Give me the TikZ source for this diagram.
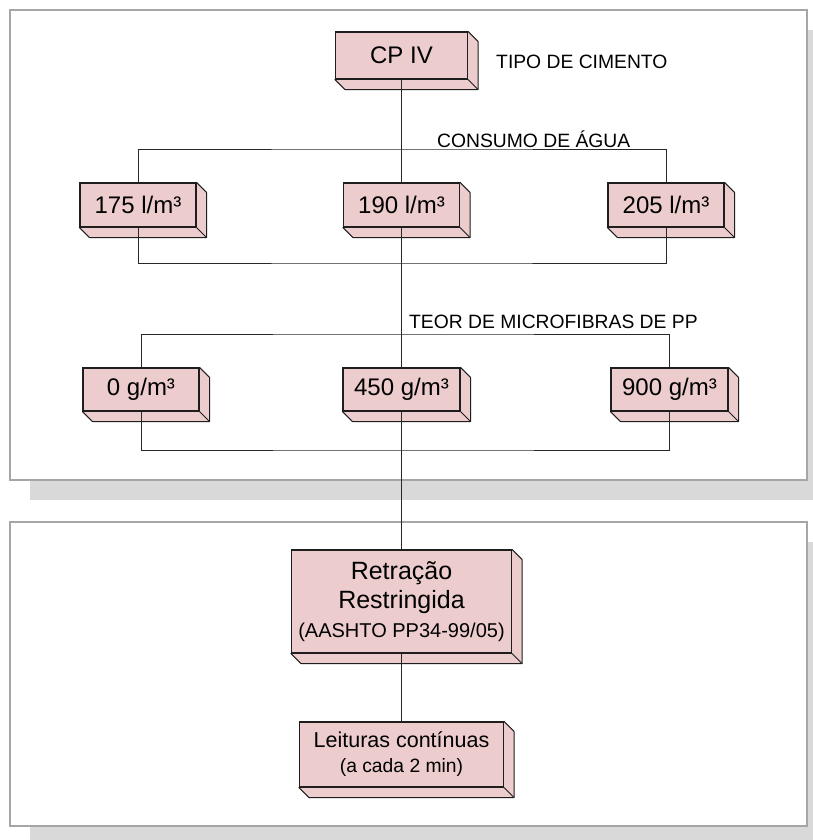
\documentclass[tikz,border=0pt]{standalone}
\usepackage{fontspec}
\setmainfont{Liberation Sans}
\usetikzlibrary{calc}
\pgfdeclarelayer{bg}
\pgfdeclarelayer{depth}
\pgfdeclarelayer{lines}
\pgfsetlayers{bg,depth,lines,main}
\definecolor{boxpink}{RGB}{236,204,204}
\definecolor{panelgray}{RGB}{166,166,166}
\definecolor{shadowgray}{RGB}{217,217,217}
\definecolor{edgecol}{RGB}{30,30,30}
\definecolor{linecol}{RGB}{40,40,40}
\tikzset{
  facebox/.style={draw=edgecol, fill=boxpink, line width=1.1pt, inner sep=2pt, align=center,
    font=\fontsize{24}{28}\selectfont},
  depthbox/.style={draw=edgecol, fill=boxpink, line width=1pt, line join=round},
  conn/.style={draw=linecol, line width=0.9pt},
  grouplabel/.style={anchor=west, inner sep=0pt, font=\fontsize{19.3}{22}\selectfont},
  panel/.style={draw=panelgray, fill=white, line width=2pt},
  panelshadow/.style={fill=shadowgray, draw=none}
}
\newcommand\mydepth[1]{%
  \begin{pgfonlayer}{depth}
    \path[depthbox] (#1.north east) -- ++(10,10) -- ([shift={(10,10)}]#1.south east)
      -- ([shift={(10,10)}]#1.south west) -- (#1.south west) -- cycle;
    \draw[depthbox] (#1.south east) -- ++(10,10);
  \end{pgfonlayer}}
\begin{document}
\begin{tikzpicture}[x=1pt,y=-1pt]
\useasboundingbox (0,0) rectangle (813,840);
\begin{pgfonlayer}{bg}
  \fill[white] (0,0) rectangle (813,840);
  \path[panelshadow] (30,30) rectangle (813,500);
  \path[panel] (10,10) rectangle (807,480);
  \path[panelshadow] (30,542) rectangle (813,840);
  \path[panel] (10,522) rectangle (807,826);
\end{pgfonlayer}

% boxes
\node[facebox, minimum width=132pt, minimum height=47pt] (cp) at (401.5,55.5) {CP IV};
\node[facebox, minimum width=116pt, minimum height=44pt] (c175) at (138,205) {175 l/m³};
\node[facebox, minimum width=116pt, minimum height=44pt] (c190) at (401.5,205) {190 l/m³};
\node[facebox, minimum width=116pt, minimum height=44pt] (c205) at (666,205) {205 l/m³};
\node[facebox, minimum width=116pt, minimum height=43pt] (f0) at (141,389.5) {0 g/m³};
\node[facebox, minimum width=117pt, minimum height=43pt] (f450) at (401.5,389.5) {450 g/m³};
\node[facebox, minimum width=117pt, minimum height=43pt] (f900) at (669.5,389.5) {900 g/m³};
\node[facebox, minimum width=220pt, minimum height=103pt, font=\fontsize{25}{29}\selectfont] (ret) at (401.5,601.5)
  {Retração\\Restringida\\{\fontsize{20}{29}\selectfont (AASHTO PP34-99/05)}};
\node[facebox, minimum width=204pt, minimum height=65pt, font=\fontsize{21.5}{25}\selectfont] (lei) at (401.5,754.5)
  {Leituras contínuas\\{\fontsize{19.3}{25}\selectfont (a cada 2 min)}};

\mydepth{cp}\mydepth{c175}\mydepth{c190}\mydepth{c205}
\mydepth{f0}\mydepth{f450}\mydepth{f900}\mydepth{ret}\mydepth{lei}

% labels
\node[grouplabel] (tipo) at (496,62) {TIPO DE CIMENTO};
\node[grouplabel] (consumo) at (437,139) {CONSUMO DE ÁGUA};
\node[grouplabel] (teor) at (409,322) {TEOR DE MICROFIBRAS DE PP};

% connectors
\coordinate (g1t) at (401.5,149);
\coordinate (g1b) at (401.5,263);
\coordinate (g2t) at (401.5,334);
\coordinate (g2b) at (401.5,450);
\begin{pgfonlayer}{lines}
  \draw[conn] (cp.south) -- (c190.north);
  \draw[conn] (c190.south) -- (f450.north);
  \draw[conn] (f450.south) -- (ret.north);
  \draw[conn] (ret.south) -- (lei.north);
  \draw[conn] (c175.north) |- (g1t) -| (c205.north);
  \draw[conn] (c175.south) |- (g1b) -| (c205.south);
  \draw[conn] (f0.north) |- (g2t) -| (f900.north);
  \draw[conn] (f0.south) |- (g2b) -| (f900.south);
\end{pgfonlayer}
\end{tikzpicture}
\end{document}
